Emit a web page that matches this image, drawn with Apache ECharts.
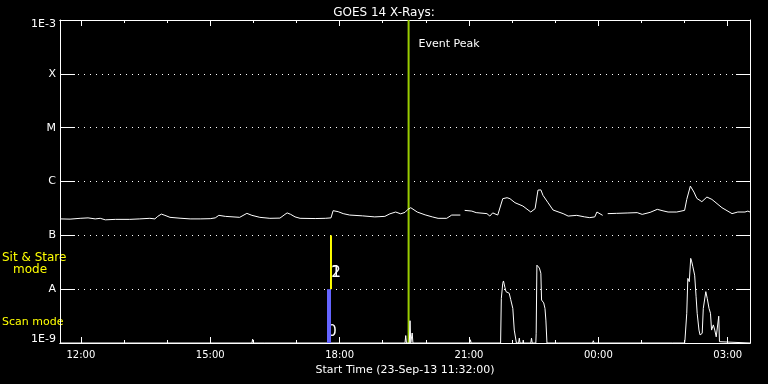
<!DOCTYPE html>
<html><head><meta charset="utf-8">
<script src="https://cdn.jsdelivr.net/npm/echarts@6/dist/echarts.min.js"></script>
<style>html,body{margin:0;background:#000}#c{width:768px;height:384px}</style>
</head><body><div id="c"></div>
<script>
const chartTitle = 'GOES 14 X-Rays:';
const xAxisName = 'Start Time (23-Sep-13 11:32:00)';
const xStart = '11:31', xEnd = '03:31';
const xTickLabels = ['12:00','15:00','18:00','21:00','00:00','03:00'];
const xMinorTicks = ['12:00','13:00','14:00','15:00','16:00','17:00','18:00','19:00','20:00','21:00','22:00','23:00','00:00','01:00','02:00','03:00'];
const yTickLabels = ['1E-9','A','B','C','M','X','1E-3'];

const mainTimes = ['11:31','11:45','11:59','12:10','12:20','12:27','12:34','12:48','13:08','13:22','13:36','13:43','13:47','13:52','13:57','14:04','14:18','14:32','14:46','15:00','15:07','15:12','15:21','15:41','15:51','15:58','16:09','16:23','16:37','16:44','16:47','16:52','16:58','17:05','17:26','17:40','17:48','17:51','17:58','18:05','18:14','18:32','18:49','19:03','19:10','19:18','19:25','19:31','19:35','19:39','19:48','19:59','20:09','20:17','20:29','20:36','20:48','20:51','20:54','21:04','21:10','21:25','21:29','21:33','21:40','21:47','21:53','21:57','22:04','22:15','22:26','22:32','22:36','22:40','22:43','22:50','22:57','23:11','23:18','23:30','23:41','23:48','23:55','23:58','00:06','00:09','00:13','00:25','00:40','00:54','01:01','01:12','01:22','01:30','01:37','01:49','02:00','02:03','02:08','02:13','02:17','02:24','02:31','02:38','02:52','03:06','03:14','03:24','03:28','03:31'];
const mainFlux = [2.02e-7,2.0e-7,2.07e-7,2.11e-7,2.02e-7,2.07e-7,1.94e-7,1.98e-7,1.98e-7,2.02e-7,2.07e-7,2.02e-7,2.25e-7,2.48e-7,2.35e-7,2.16e-7,2.08e-7,2.02e-7,2.02e-7,2.04e-7,2.11e-7,2.35e-7,2.25e-7,2.16e-7,2.56e-7,2.35e-7,2.16e-7,2.07e-7,2.09e-7,2.45e-7,2.61e-7,2.45e-7,2.20e-7,2.07e-7,2.05e-7,2.07e-7,2.11e-7,2.87e-7,2.75e-7,2.53e-7,2.38e-7,2.30e-7,2.20e-7,2.25e-7,2.51e-7,2.71e-7,2.51e-7,2.67e-7,3.04e-7,3.26e-7,2.71e-7,2.40e-7,2.20e-7,2.07e-7,2.07e-7,2.38e-7,2.38e-7,null,2.91e-7,2.82e-7,2.64e-7,2.53e-7,2.28e-7,2.61e-7,2.38e-7,4.80e-7,5.00e-7,4.80e-7,4.04e-7,3.50e-7,2.71e-7,3.13e-7,6.92e-7,6.98e-7,5.52e-7,4.04e-7,2.95e-7,2.53e-7,2.28e-7,2.35e-7,2.20e-7,2.13e-7,2.20e-7,2.71e-7,2.35e-7,null,2.53e-7,2.56e-7,2.60e-7,2.64e-7,2.45e-7,2.67e-7,3.04e-7,2.85e-7,2.71e-7,2.71e-7,2.91e-7,4.65e-7,8.22e-7,6.36e-7,4.86e-7,4.22e-7,5.14e-7,4.65e-7,3.26e-7,2.53e-7,2.71e-7,2.71e-7,2.82e-7,2.71e-7];

const lowTimes = ['11:31','15:58','15:59','16:00','16:16','16:17','16:18','19:31','19:32','19:33','19:37','19:38','19:39','19:40','19:41','19:42','20:53','20:54','20:55','21:01','21:02','21:03','21:44','21:45','21:47','21:48','21:50','21:51:30','21:53','21:56','21:58','22:01','22:02:30','22:03','22:05','22:06','22:09','22:10','22:11','22:15','22:15:30','22:16','22:26','22:27','22:28','22:33','22:33:30','22:34:30','22:35','22:38','22:40','22:41','22:44','22:45:45','22:47','22:48:30','23:00','23:00:30','23:01','23:05','23:05:30','23:06','23:52','23:53','23:54','01:43','01:44','01:45','02:00','02:00:30','02:03','02:04:30','02:06:30','02:08:30','02:10','02:11:30','02:14','02:16','02:17:30','02:20','02:21:30','02:23:30','02:24:30','02:26','02:29:30','02:31:30','02:34','02:36','02:37:30','02:40','02:42','02:44','02:45:30','02:47:30','02:48:30','02:49','03:31'];
const lowValues = [0,0,1.2,0,0,0.6,0,0,2.3,0,0,6.9,0,0,3.1,0,0,0.6,0,0,1.0,0,0,13.8,18.5,19.2,17.2,15.9,16.2,15.4,13.5,10.7,10.2,4.0,4.0,0,0,1.5,0,0,0.9,0,0,1.5,0,0,3,24.1,24.1,23.2,21.6,13.3,12.4,10.7,7.1,0,0,0.6,0,0,0.5,0,0,0.7,0,0,0.4,0,0,0.9,9.2,20,19,26.2,25.1,23.6,21,14.3,9.2,4.0,2.5,1.9,3,10.7,15.9,13.8,10.7,9.2,4,5.6,4,1.9,2.5,8.3,0.4,0,0];

const eventPeakTime = '19:36';
const eventPeakLabel = 'Event Peak';
const eventLabelFlux = 3.5e-4;
const sitStareTime = '17:48';
const sitStareRange = [1e-8, 1e-7];
const scanTime = '17:45:15';
const scanRange = [1e-9, 1e-8];
const modeNumberLabels = ['1', '2'];
const modeNumberFlux = 2.03e-8;
const scanNumberLabel = '0';
const scanNumberFlux = 1.56e-9;

function toH(s) {
  const p = s.split(':').map(Number);
  let h = p[0] + p[1] / 60 + (p[2] || 0) / 3600;
  if (p[0] < 11) h += 24;
  return h;
}
const majorVals = xTickLabels.map(toH);
const minorVals = xMinorTicks.map(toH);
const xmin = toH(xStart), xmax = toH(xEnd);
const FONT = 'DejaVu Sans';

const mkX = (pos, major, labels) => ({
  type: 'value', position: pos, min: xmin, max: xmax,
  axisLine: { show: true, lineStyle: { color: '#fff', width: 1 } },
  axisTick: { show: true, inside: true, length: major ? 6 : 3, customValues: major ? majorVals : minorVals, lineStyle: { color: '#fff' } },
  axisLabel: labels ? {
    show: true, customValues: majorVals, color: '#fff', fontFamily: FONT, fontSize: 10, margin: 7,
    formatter: v => { const i = majorVals.findIndex(m => Math.abs(m - v) < 1e-6); return i >= 0 ? xTickLabels[i] : ''; }
  } : { show: false },
  splitLine: { show: false },
  name: labels ? xAxisName : '', nameLocation: 'middle', nameGap: 19,
  nameTextStyle: { color: '#fff', fontFamily: FONT, fontSize: 11, verticalAlign: 'top' }
});

const chart = echarts.init(document.getElementById('c'), null, { renderer: 'canvas' });
chart.setOption({
  backgroundColor: '#000',
  animation: false,
  title: { text: chartTitle, left: 'center', top: 2, textStyle: { color: '#fff', fontFamily: FONT, fontSize: 12, fontWeight: 'normal' } },
  grid: { left: 60, right: 18, top: 20, bottom: 41, containLabel: false },
  xAxis: [mkX('bottom', true, true), mkX('bottom', false, false), mkX('top', true, false), mkX('top', false, false)],
  yAxis: [
    { type: 'log', logBase: 10, min: 1e-9, max: 1e-3, splitNumber: 6, position: 'left',
      axisLine: { show: true, lineStyle: { color: '#fff' } },
      axisTick: { show: true, inside: true, length: 15, lineStyle: { color: '#fff' } },
      axisLabel: { color: '#fff', fontFamily: FONT, fontSize: 11, margin: 4,
        formatter: v => { const i = Math.round(Math.log10(v)) + 9; const t = yTickLabels[i];
          return i === 0 ? '{lo|' + t + '}' : (i === 6 ? '{hi|' + t + '}' : '{n|' + t + '}'); },
        rich: { lo: { padding: [0, 0, 8, 0], color: '#fff', fontFamily: FONT, fontSize: 11 },
                hi: { padding: [8, 0, 0, 0], color: '#fff', fontFamily: FONT, fontSize: 11 },
                n: { color: '#fff', fontFamily: FONT, fontSize: 11 } } },
      splitLine: { show: true, lineStyle: { color: '#fff', type: [1, 5], width: 1 } } },
    { type: 'log', logBase: 10, min: 1e-9, max: 1e-3, splitNumber: 6, position: 'right',
      axisLine: { show: true, lineStyle: { color: '#fff' } },
      axisTick: { show: true, inside: true, length: 14, lineStyle: { color: '#fff' } },
      axisLabel: { show: false }, splitLine: { show: false } },
    { type: 'value', min: 0, max: 100, show: false }
  ],
  graphic: [
    { type: 'text', left: 2, top: 252, style: { text: 'Sit & Stare', fill: '#ff0', font: '12px "DejaVu Sans"' } },
    { type: 'text', left: 13, top: 264, style: { text: 'mode', fill: '#ff0', font: '12px "DejaVu Sans"' } },
    { type: 'text', left: 2, top: 317, style: { text: 'Scan mode', fill: '#ff0', font: '11px "DejaVu Sans"' } }
  ],
  series: [
    { name: 'Event Peak', type: 'line', xAxisIndex: 0, yAxisIndex: 0, symbol: 'none',
      data: [[toH(eventPeakTime), 1e-9], [toH(eventPeakTime), 1e-3]],
      lineStyle: { color: '#99cc00', width: 2 }, z: 3,
      markPoint: { symbol: 'circle', symbolSize: 0, data: [{ coord: [toH(eventPeakTime), eventLabelFlux] }],
        label: { show: true, position: 'right', distance: 10, formatter: eventPeakLabel, color: '#fff', fontFamily: FONT, fontSize: 11 } } },
    { name: 'GOES flux', type: 'line', xAxisIndex: 0, yAxisIndex: 0, symbol: 'none', connectNulls: false,
      data: mainTimes.map((t, i) => [toH(t), mainFlux[i]]),
      lineStyle: { color: '#fff', width: 1 }, z: 4 },
    { name: 'Lower', type: 'line', xAxisIndex: 0, yAxisIndex: 2, symbol: 'none',
      data: lowTimes.map((t, i) => [toH(t), lowValues[i]]),
      lineStyle: { color: '#fff', width: 1 }, z: 4 },
    { name: 'Scan', type: 'line', xAxisIndex: 0, yAxisIndex: 0, symbol: 'none',
      data: scanRange.map(v => [toH(scanTime), v]),
      lineStyle: { color: '#6464ff', width: 4 }, z: 5,
      markPoint: { symbol: 'circle', symbolSize: 0, data: [{ coord: [toH(scanTime), scanNumberFlux] }],
        label: { show: true, position: 'inside', offset: [3, 0], formatter: scanNumberLabel, color: '#fff', fontFamily: FONT, fontSize: 15 } } },
    { name: 'Sit & Stare', type: 'line', xAxisIndex: 0, yAxisIndex: 0, symbol: 'none',
      data: sitStareRange.map(v => [toH(sitStareTime), v]),
      lineStyle: { color: '#ffff00', width: 2 }, z: 6,
      markPoint: { symbol: 'circle', symbolSize: 0,
        data: modeNumberLabels.map(l => ({ coord: [toH(sitStareTime), modeNumberFlux], value: l })),
        label: { show: true, position: 'inside', offset: [5, 0], formatter: p => p.value, color: '#fff', fontFamily: FONT, fontSize: 15 } } }
  ]
});
</script></body></html>
